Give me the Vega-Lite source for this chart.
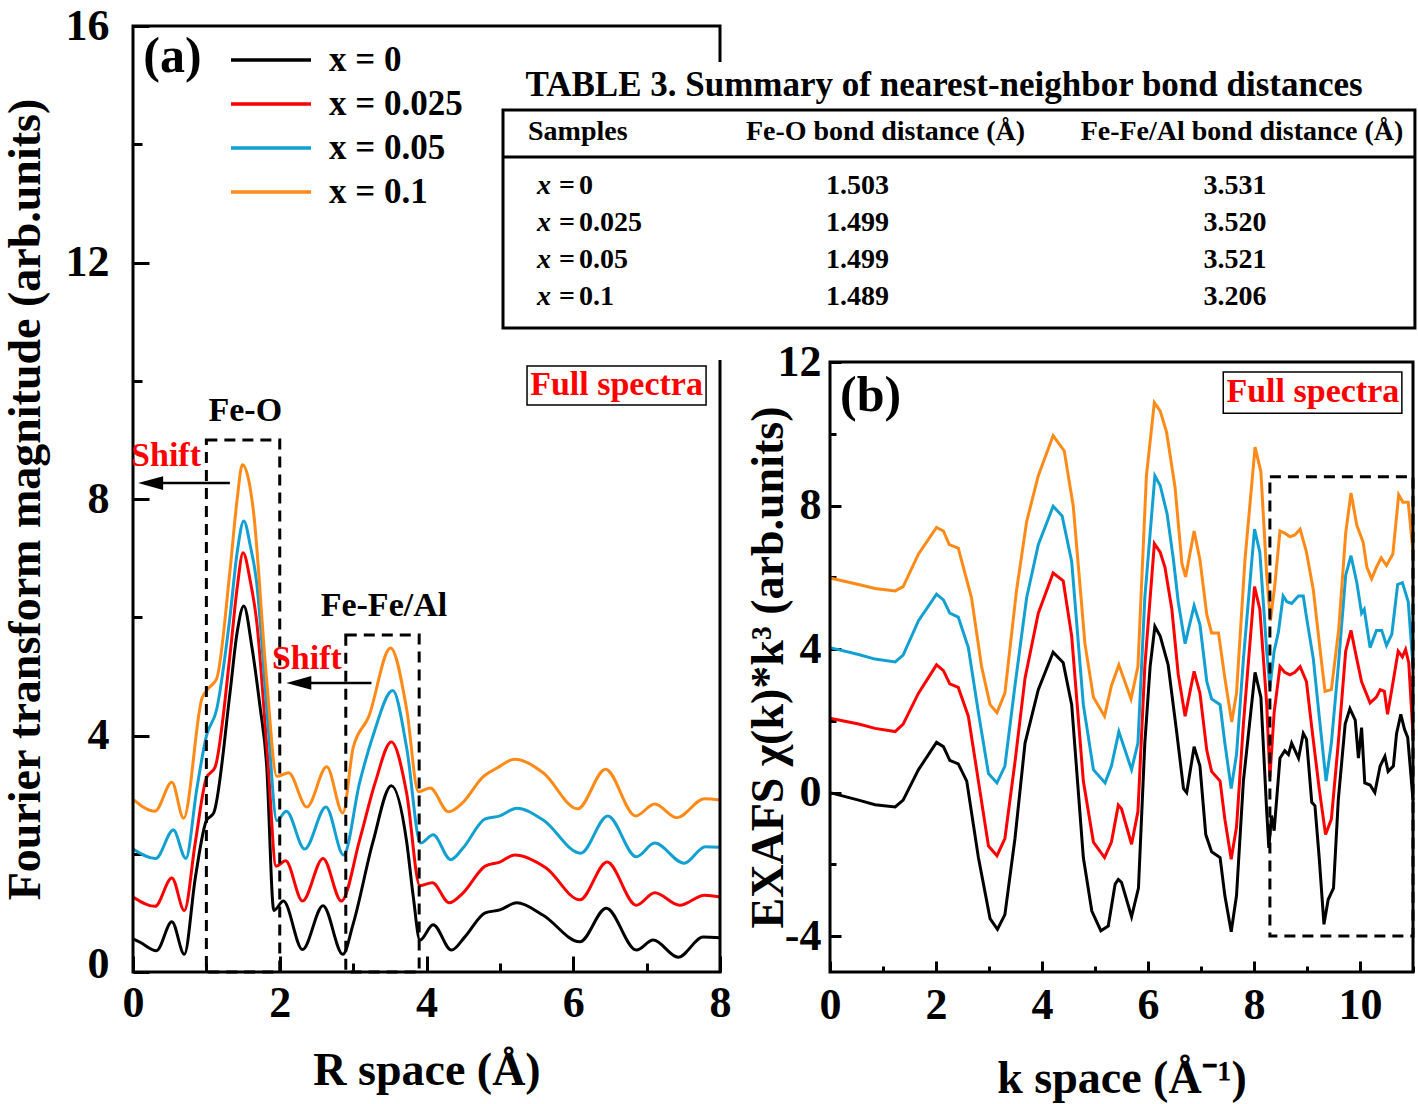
{
"$schema": "https://vega.github.io/schema/vega-lite/v6.json",
"width": 1280, "height": 946,
"autosize": {"type": "none"},
"padding": {"left": 133, "top": 26, "right": 5, "bottom": 132},
"background": "white",
"config": {
  "view": {"stroke": null},
  "font": "Liberation Serif",
  "axis": {"domain": false, "grid": false, "labelFont": "Liberation Serif", "labelFontWeight": "bold", "labelFontSize": 44, "labelColor": "black", "labelFlush": false, "labelOverlap": false, "titleFont": "Liberation Serif", "titleFontWeight": "bold", "titleFontSize": 46, "titleColor": "black", "tickColor": "black", "tickWidth": 3},
  "text": {"font": "Liberation Serif", "fontWeight": "bold"}
},
"datasets": {
  "ft": [
    {"s":"x = 0","r":0,"v":0.56},{"s":"x = 0","r":0.1,"v":0.5},{"s":"x = 0","r":0.32,"v":0.36},{"s":"x = 0","r":0.53,"v":0.85},{"s":"x = 0","r":0.7,"v":0.3},{"s":"x = 0","r":0.85,"v":1.6},{"s":"x = 0","r":1.0,"v":2.56},{"s":"x = 0","r":1.1,"v":2.69},{"s":"x = 0","r":1.32,"v":4.7},{"s":"x = 0","r":1.42,"v":5.75},{"s":"x = 0","r":1.51,"v":6.19},{"s":"x = 0","r":1.62,"v":5.5},{"s":"x = 0","r":1.73,"v":4.5},{"s":"x = 0","r":1.82,"v":3.53},{"s":"x = 0","r":1.92,"v":1.04},{"s":"x = 0","r":2.05,"v":1.2},{"s":"x = 0","r":2.31,"v":0.38},{"s":"x = 0","r":2.59,"v":1.12},{"s":"x = 0","r":2.86,"v":0.3},{"s":"x = 0","r":3.0,"v":0.81},{"s":"x = 0","r":3.27,"v":2.2},{"s":"x = 0","r":3.52,"v":3.15},{"s":"x = 0","r":3.73,"v":2.2},{"s":"x = 0","r":3.82,"v":1.27},{"s":"x = 0","r":3.91,"v":0.54},{"s":"x = 0","r":4.09,"v":0.8},{"s":"x = 0","r":4.34,"v":0.37},{"s":"x = 0","r":4.52,"v":0.59},{"s":"x = 0","r":4.8,"v":1.0},{"s":"x = 0","r":5.0,"v":1.05},{"s":"x = 0","r":5.23,"v":1.17},{"s":"x = 0","r":5.59,"v":0.96},{"s":"x = 0","r":6.09,"v":0.51},{"s":"x = 0","r":6.45,"v":1.08},{"s":"x = 0","r":6.86,"v":0.37},{"s":"x = 0","r":7.09,"v":0.54},{"s":"x = 0","r":7.43,"v":0.25},{"s":"x = 0","r":7.77,"v":0.59},{"s":"x = 0","r":8.0,"v":0.58},
    {"s":"x = 0.025","r":0,"v":1.27},{"s":"x = 0.025","r":0.3,"v":1.11},{"s":"x = 0.025","r":0.53,"v":1.59},{"s":"x = 0.025","r":0.7,"v":1.04},{"s":"x = 0.025","r":0.85,"v":2.2},{"s":"x = 0.025","r":1.0,"v":3.28},{"s":"x = 0.025","r":1.12,"v":3.47},{"s":"x = 0.025","r":1.32,"v":5.34},{"s":"x = 0.025","r":1.42,"v":6.5},{"s":"x = 0.025","r":1.5,"v":7.09},{"s":"x = 0.025","r":1.6,"v":6.6},{"s":"x = 0.025","r":1.68,"v":5.99},{"s":"x = 0.025","r":1.84,"v":3.53},{"s":"x = 0.025","r":1.95,"v":1.79},{"s":"x = 0.025","r":2.08,"v":1.88},{"s":"x = 0.025","r":2.31,"v":1.2},{"s":"x = 0.025","r":2.59,"v":1.92},{"s":"x = 0.025","r":2.84,"v":1.2},{"s":"x = 0.025","r":3.09,"v":2.24},{"s":"x = 0.025","r":3.3,"v":3.2},{"s":"x = 0.025","r":3.52,"v":3.89},{"s":"x = 0.025","r":3.73,"v":3.02},{"s":"x = 0.025","r":3.91,"v":1.46},{"s":"x = 0.025","r":4.08,"v":1.51},{"s":"x = 0.025","r":4.31,"v":1.17},{"s":"x = 0.025","r":4.5,"v":1.34},{"s":"x = 0.025","r":4.8,"v":1.79},{"s":"x = 0.025","r":5.0,"v":1.86},{"s":"x = 0.025","r":5.2,"v":1.98},{"s":"x = 0.025","r":5.63,"v":1.76},{"s":"x = 0.025","r":6.09,"v":1.22},{"s":"x = 0.025","r":6.46,"v":1.86},{"s":"x = 0.025","r":6.86,"v":1.13},{"s":"x = 0.025","r":7.11,"v":1.34},{"s":"x = 0.025","r":7.45,"v":1.13},{"s":"x = 0.025","r":7.79,"v":1.3},{"s":"x = 0.025","r":8.0,"v":1.27},
    {"s":"x = 0.05","r":0,"v":2.08},{"s":"x = 0.05","r":0.31,"v":1.92},{"s":"x = 0.05","r":0.55,"v":2.4},{"s":"x = 0.05","r":0.72,"v":1.92},{"s":"x = 0.05","r":0.87,"v":3.1},{"s":"x = 0.05","r":1.0,"v":3.99},{"s":"x = 0.05","r":1.14,"v":4.44},{"s":"x = 0.05","r":1.32,"v":5.99},{"s":"x = 0.05","r":1.42,"v":7.1},{"s":"x = 0.05","r":1.51,"v":7.63},{"s":"x = 0.05","r":1.6,"v":7.2},{"s":"x = 0.05","r":1.68,"v":6.64},{"s":"x = 0.05","r":1.84,"v":4.18},{"s":"x = 0.05","r":1.96,"v":2.56},{"s":"x = 0.05","r":2.09,"v":2.72},{"s":"x = 0.05","r":2.34,"v":2.08},{"s":"x = 0.05","r":2.63,"v":2.79},{"s":"x = 0.05","r":2.87,"v":1.98},{"s":"x = 0.05","r":3.09,"v":3.21},{"s":"x = 0.05","r":3.27,"v":3.99},{"s":"x = 0.05","r":3.54,"v":4.76},{"s":"x = 0.05","r":3.73,"v":3.79},{"s":"x = 0.05","r":3.92,"v":2.18},{"s":"x = 0.05","r":4.09,"v":2.32},{"s":"x = 0.05","r":4.33,"v":1.9},{"s":"x = 0.05","r":4.5,"v":2.1},{"s":"x = 0.05","r":4.8,"v":2.59},{"s":"x = 0.05","r":5.0,"v":2.64},{"s":"x = 0.05","r":5.23,"v":2.77},{"s":"x = 0.05","r":5.59,"v":2.57},{"s":"x = 0.05","r":6.1,"v":2.01},{"s":"x = 0.05","r":6.47,"v":2.64},{"s":"x = 0.05","r":6.86,"v":1.95},{"s":"x = 0.05","r":7.11,"v":2.18},{"s":"x = 0.05","r":7.51,"v":1.84},{"s":"x = 0.05","r":7.8,"v":2.12},{"s":"x = 0.05","r":8.0,"v":2.11},
    {"s":"x = 0.1","r":0,"v":2.92},{"s":"x = 0.1","r":0.3,"v":2.72},{"s":"x = 0.1","r":0.53,"v":3.21},{"s":"x = 0.1","r":0.69,"v":2.6},{"s":"x = 0.1","r":0.94,"v":4.63},{"s":"x = 0.1","r":1.03,"v":4.8},{"s":"x = 0.1","r":1.14,"v":4.96},{"s":"x = 0.1","r":1.32,"v":6.77},{"s":"x = 0.1","r":1.42,"v":8.0},{"s":"x = 0.1","r":1.49,"v":8.58},{"s":"x = 0.1","r":1.58,"v":8.3},{"s":"x = 0.1","r":1.64,"v":7.81},{"s":"x = 0.1","r":1.82,"v":4.96},{"s":"x = 0.1","r":1.96,"v":3.31},{"s":"x = 0.1","r":2.12,"v":3.37},{"s":"x = 0.1","r":2.37,"v":2.79},{"s":"x = 0.1","r":2.64,"v":3.47},{"s":"x = 0.1","r":2.86,"v":2.69},{"s":"x = 0.1","r":3.0,"v":3.79},{"s":"x = 0.1","r":3.21,"v":4.31},{"s":"x = 0.1","r":3.51,"v":5.48},{"s":"x = 0.1","r":3.73,"v":4.44},{"s":"x = 0.1","r":3.89,"v":3.05},{"s":"x = 0.1","r":4.05,"v":3.11},{"s":"x = 0.1","r":4.3,"v":2.71},{"s":"x = 0.1","r":4.49,"v":2.86},{"s":"x = 0.1","r":4.77,"v":3.3},{"s":"x = 0.1","r":4.96,"v":3.45},{"s":"x = 0.1","r":5.2,"v":3.6},{"s":"x = 0.1","r":5.59,"v":3.37},{"s":"x = 0.1","r":6.06,"v":2.76},{"s":"x = 0.1","r":6.44,"v":3.43},{"s":"x = 0.1","r":6.85,"v":2.64},{"s":"x = 0.1","r":7.11,"v":2.84},{"s":"x = 0.1","r":7.41,"v":2.61},{"s":"x = 0.1","r":7.79,"v":2.93},{"s":"x = 0.1","r":8.0,"v":2.91}
  ],
  "ex": [
    {"s":"x = 0","k":0,"v":0.0},{"s":"x = 0","k":0.54,"v":-0.21},{"s":"x = 0","k":0.85,"v":-0.34},{"s":"x = 0","k":1.23,"v":-0.4},{"s":"x = 0","k":1.38,"v":-0.21},{"s":"x = 0","k":1.67,"v":0.64},{"s":"x = 0","k":2.01,"v":1.4},{"s":"x = 0","k":2.14,"v":1.28},{"s":"x = 0","k":2.26,"v":0.9},{"s":"x = 0","k":2.42,"v":0.8},{"s":"x = 0","k":2.58,"v":0.32},{"s":"x = 0","k":2.8,"v":-1.81},{"s":"x = 0","k":3.02,"v":-3.51},{"s":"x = 0","k":3.16,"v":-3.81},{"s":"x = 0","k":3.3,"v":-3.4},{"s":"x = 0","k":3.49,"v":-1.28},{"s":"x = 0","k":3.68,"v":1.38},{"s":"x = 0","k":3.93,"v":2.87},{"s":"x = 0","k":4.21,"v":3.91},{"s":"x = 0","k":4.4,"v":3.62},{"s":"x = 0","k":4.56,"v":2.45},{"s":"x = 0","k":4.78,"v":-1.81},{"s":"x = 0","k":4.94,"v":-3.3},{"s":"x = 0","k":5.11,"v":-3.85},{"s":"x = 0","k":5.25,"v":-3.72},{"s":"x = 0","k":5.38,"v":-2.55},{"s":"x = 0","k":5.44,"v":-2.42},{"s":"x = 0","k":5.5,"v":-2.5},{"s":"x = 0","k":5.69,"v":-3.46},{"s":"x = 0","k":5.82,"v":-2.66},{"s":"x = 0","k":5.94,"v":1.38},{"s":"x = 0","k":6.04,"v":3.51},{"s":"x = 0","k":6.13,"v":4.63},{"s":"x = 0","k":6.23,"v":4.36},{"s":"x = 0","k":6.38,"v":3.56},{"s":"x = 0","k":6.54,"v":1.7},{"s":"x = 0","k":6.67,"v":0.11},{"s":"x = 0","k":6.73,"v":0.0},{"s":"x = 0","k":6.87,"v":1.28},{"s":"x = 0","k":6.98,"v":0.74},{"s":"x = 0","k":7.09,"v":-1.17},{"s":"x = 0","k":7.2,"v":-1.65},{"s":"x = 0","k":7.36,"v":-1.81},{"s":"x = 0","k":7.45,"v":-2.87},{"s":"x = 0","k":7.57,"v":-3.88},{"s":"x = 0","k":7.67,"v":-2.87},{"s":"x = 0","k":7.8,"v":0.32},{"s":"x = 0","k":8.02,"v":3.35},{"s":"x = 0","k":8.13,"v":2.66},{"s":"x = 0","k":8.24,"v":-0.53},{"s":"x = 0","k":8.28,"v":-1.54},{"s":"x = 0","k":8.33,"v":-0.64},{"s":"x = 0","k":8.38,"v":-1.06},{"s":"x = 0","k":8.49,"v":0.96},{"s":"x = 0","k":8.58,"v":1.17},{"s":"x = 0","k":8.65,"v":1.06},{"s":"x = 0","k":8.71,"v":1.38},{"s":"x = 0","k":8.84,"v":0.96},{"s":"x = 0","k":8.93,"v":1.65},{"s":"x = 0","k":8.99,"v":1.49},{"s":"x = 0","k":9.09,"v":-0.27},{"s":"x = 0","k":9.15,"v":-0.37},{"s":"x = 0","k":9.23,"v":-1.81},{"s":"x = 0","k":9.32,"v":-3.67},{"s":"x = 0","k":9.4,"v":-2.98},{"s":"x = 0","k":9.5,"v":-2.66},{"s":"x = 0","k":9.59,"v":-0.21},{"s":"x = 0","k":9.72,"v":1.91},{"s":"x = 0","k":9.81,"v":2.34},{"s":"x = 0","k":9.91,"v":2.02},{"s":"x = 0","k":9.97,"v":0.96},{"s":"x = 0","k":10.03,"v":1.81},{"s":"x = 0","k":10.09,"v":0.27},{"s":"x = 0","k":10.19,"v":0.21},{"s":"x = 0","k":10.28,"v":0.0},{"s":"x = 0","k":10.38,"v":0.74},{"s":"x = 0","k":10.47,"v":1.01},{"s":"x = 0","k":10.53,"v":0.59},{"s":"x = 0","k":10.63,"v":0.74},{"s":"x = 0","k":10.69,"v":1.65},{"s":"x = 0","k":10.77,"v":2.18},{"s":"x = 0","k":10.84,"v":1.76},{"s":"x = 0","k":10.9,"v":1.54},{"s":"x = 0","k":10.94,"v":0.85},{"s":"x = 0","k":11.0,"v":-0.21},
    {"s":"x = 0.025","k":0,"v":2.07},{"s":"x = 0.025","k":0.54,"v":1.91},{"s":"x = 0.025","k":0.85,"v":1.79},{"s":"x = 0.025","k":1.23,"v":1.7},{"s":"x = 0.025","k":1.38,"v":1.91},{"s":"x = 0.025","k":1.67,"v":2.77},{"s":"x = 0.025","k":2.01,"v":3.56},{"s":"x = 0.025","k":2.14,"v":3.4},{"s":"x = 0.025","k":2.26,"v":3.03},{"s":"x = 0.025","k":2.42,"v":2.93},{"s":"x = 0.025","k":2.61,"v":2.13},{"s":"x = 0.025","k":2.8,"v":0.32},{"s":"x = 0.025","k":2.99,"v":-1.49},{"s":"x = 0.025","k":3.15,"v":-1.76},{"s":"x = 0.025","k":3.3,"v":-1.28},{"s":"x = 0.025","k":3.49,"v":0.85},{"s":"x = 0.025","k":3.68,"v":3.19},{"s":"x = 0.025","k":3.93,"v":5.0},{"s":"x = 0.025","k":4.21,"v":6.12},{"s":"x = 0.025","k":4.4,"v":5.9},{"s":"x = 0.025","k":4.56,"v":4.36},{"s":"x = 0.025","k":4.78,"v":0.32},{"s":"x = 0.025","k":4.97,"v":-1.38},{"s":"x = 0.025","k":5.18,"v":-1.81},{"s":"x = 0.025","k":5.31,"v":-1.38},{"s":"x = 0.025","k":5.44,"v":-0.35},{"s":"x = 0.025","k":5.5,"v":-0.45},{"s":"x = 0.025","k":5.69,"v":-1.44},{"s":"x = 0.025","k":5.81,"v":-0.53},{"s":"x = 0.025","k":5.94,"v":3.51},{"s":"x = 0.025","k":6.12,"v":6.94},{"s":"x = 0.025","k":6.23,"v":6.7},{"s":"x = 0.025","k":6.32,"v":6.28},{"s":"x = 0.025","k":6.45,"v":5.11},{"s":"x = 0.025","k":6.57,"v":3.3},{"s":"x = 0.025","k":6.7,"v":2.13},{"s":"x = 0.025","k":6.87,"v":3.38},{"s":"x = 0.025","k":6.98,"v":2.77},{"s":"x = 0.025","k":7.11,"v":1.17},{"s":"x = 0.025","k":7.2,"v":0.59},{"s":"x = 0.025","k":7.36,"v":0.32},{"s":"x = 0.025","k":7.45,"v":-0.74},{"s":"x = 0.025","k":7.57,"v":-1.86},{"s":"x = 0.025","k":7.67,"v":-0.96},{"s":"x = 0.025","k":7.8,"v":1.91},{"s":"x = 0.025","k":8.01,"v":5.74},{"s":"x = 0.025","k":8.11,"v":5.11},{"s":"x = 0.025","k":8.24,"v":2.45},{"s":"x = 0.025","k":8.3,"v":0.43},{"s":"x = 0.025","k":8.38,"v":2.23},{"s":"x = 0.025","k":8.49,"v":3.51},{"s":"x = 0.025","k":8.58,"v":3.35},{"s":"x = 0.025","k":8.68,"v":3.28},{"s":"x = 0.025","k":8.77,"v":3.35},{"s":"x = 0.025","k":8.87,"v":3.51},{"s":"x = 0.025","k":8.99,"v":3.09},{"s":"x = 0.025","k":9.09,"v":1.81},{"s":"x = 0.025","k":9.23,"v":0.11},{"s":"x = 0.025","k":9.35,"v":-1.17},{"s":"x = 0.025","k":9.46,"v":-0.74},{"s":"x = 0.025","k":9.59,"v":1.38},{"s":"x = 0.025","k":9.73,"v":3.94},{"s":"x = 0.025","k":9.83,"v":4.52},{"s":"x = 0.025","k":9.94,"v":3.72},{"s":"x = 0.025","k":10.03,"v":3.09},{"s":"x = 0.025","k":10.19,"v":2.5},{"s":"x = 0.025","k":10.31,"v":2.66},{"s":"x = 0.025","k":10.38,"v":2.87},{"s":"x = 0.025","k":10.46,"v":2.82},{"s":"x = 0.025","k":10.52,"v":2.18},{"s":"x = 0.025","k":10.6,"v":2.87},{"s":"x = 0.025","k":10.72,"v":3.94},{"s":"x = 0.025","k":10.8,"v":3.78},{"s":"x = 0.025","k":10.86,"v":3.99},{"s":"x = 0.025","k":10.92,"v":3.62},{"s":"x = 0.025","k":11.0,"v":1.6},
    {"s":"x = 0.05","k":0,"v":4.04},{"s":"x = 0.05","k":0.54,"v":3.85},{"s":"x = 0.05","k":0.85,"v":3.72},{"s":"x = 0.05","k":1.23,"v":3.64},{"s":"x = 0.05","k":1.38,"v":3.83},{"s":"x = 0.05","k":1.67,"v":4.79},{"s":"x = 0.05","k":2.01,"v":5.53},{"s":"x = 0.05","k":2.14,"v":5.37},{"s":"x = 0.05","k":2.26,"v":5.0},{"s":"x = 0.05","k":2.42,"v":4.89},{"s":"x = 0.05","k":2.61,"v":4.04},{"s":"x = 0.05","k":2.8,"v":2.23},{"s":"x = 0.05","k":2.99,"v":0.53},{"s":"x = 0.05","k":3.15,"v":0.27},{"s":"x = 0.05","k":3.3,"v":0.74},{"s":"x = 0.05","k":3.49,"v":2.98},{"s":"x = 0.05","k":3.71,"v":5.43},{"s":"x = 0.05","k":3.93,"v":6.91},{"s":"x = 0.05","k":4.21,"v":7.98},{"s":"x = 0.05","k":4.38,"v":7.71},{"s":"x = 0.05","k":4.56,"v":6.44},{"s":"x = 0.05","k":4.78,"v":2.45},{"s":"x = 0.05","k":4.97,"v":0.64},{"s":"x = 0.05","k":5.19,"v":0.27},{"s":"x = 0.05","k":5.31,"v":0.74},{"s":"x = 0.05","k":5.45,"v":1.7},{"s":"x = 0.05","k":5.69,"v":0.64},{"s":"x = 0.05","k":5.81,"v":1.38},{"s":"x = 0.05","k":5.94,"v":5.43},{"s":"x = 0.05","k":6.13,"v":8.83},{"s":"x = 0.05","k":6.23,"v":8.56},{"s":"x = 0.05","k":6.36,"v":7.77},{"s":"x = 0.05","k":6.48,"v":6.49},{"s":"x = 0.05","k":6.57,"v":5.32},{"s":"x = 0.05","k":6.7,"v":4.15},{"s":"x = 0.05","k":6.87,"v":5.21},{"s":"x = 0.05","k":6.98,"v":4.68},{"s":"x = 0.05","k":7.11,"v":3.09},{"s":"x = 0.05","k":7.2,"v":2.61},{"s":"x = 0.05","k":7.36,"v":2.45},{"s":"x = 0.05","k":7.45,"v":1.38},{"s":"x = 0.05","k":7.57,"v":0.11},{"s":"x = 0.05","k":7.67,"v":1.06},{"s":"x = 0.05","k":7.8,"v":3.72},{"s":"x = 0.05","k":8.01,"v":7.34},{"s":"x = 0.05","k":8.11,"v":6.7},{"s":"x = 0.05","k":8.24,"v":3.94},{"s":"x = 0.05","k":8.3,"v":2.93},{"s":"x = 0.05","k":8.38,"v":3.94},{"s":"x = 0.05","k":8.46,"v":4.47},{"s":"x = 0.05","k":8.55,"v":5.48},{"s":"x = 0.05","k":8.62,"v":5.32},{"s":"x = 0.05","k":8.71,"v":5.27},{"s":"x = 0.05","k":8.84,"v":5.48},{"s":"x = 0.05","k":8.93,"v":5.48},{"s":"x = 0.05","k":8.99,"v":4.89},{"s":"x = 0.05","k":9.12,"v":3.72},{"s":"x = 0.05","k":9.23,"v":2.13},{"s":"x = 0.05","k":9.36,"v":0.32},{"s":"x = 0.05","k":9.46,"v":1.38},{"s":"x = 0.05","k":9.59,"v":3.51},{"s":"x = 0.05","k":9.73,"v":6.06},{"s":"x = 0.05","k":9.83,"v":6.6},{"s":"x = 0.05","k":9.94,"v":5.85},{"s":"x = 0.05","k":10.03,"v":5.0},{"s":"x = 0.05","k":10.08,"v":5.11},{"s":"x = 0.05","k":10.19,"v":4.04},{"s":"x = 0.05","k":10.31,"v":4.52},{"s":"x = 0.05","k":10.41,"v":4.52},{"s":"x = 0.05","k":10.5,"v":4.1},{"s":"x = 0.05","k":10.6,"v":4.41},{"s":"x = 0.05","k":10.71,"v":5.8},{"s":"x = 0.05","k":10.8,"v":5.85},{"s":"x = 0.05","k":10.91,"v":5.32},{"s":"x = 0.05","k":11.0,"v":3.51},
    {"s":"x = 0.1","k":0,"v":5.98},{"s":"x = 0.1","k":0.54,"v":5.8},{"s":"x = 0.1","k":0.85,"v":5.69},{"s":"x = 0.1","k":1.23,"v":5.62},{"s":"x = 0.1","k":1.38,"v":5.74},{"s":"x = 0.1","k":1.67,"v":6.65},{"s":"x = 0.1","k":2.01,"v":7.39},{"s":"x = 0.1","k":2.14,"v":7.29},{"s":"x = 0.1","k":2.25,"v":6.91},{"s":"x = 0.1","k":2.42,"v":6.81},{"s":"x = 0.1","k":2.67,"v":5.43},{"s":"x = 0.1","k":2.86,"v":3.51},{"s":"x = 0.1","k":3.02,"v":2.45},{"s":"x = 0.1","k":3.15,"v":2.23},{"s":"x = 0.1","k":3.3,"v":2.77},{"s":"x = 0.1","k":3.52,"v":5.64},{"s":"x = 0.1","k":3.71,"v":7.55},{"s":"x = 0.1","k":3.93,"v":8.83},{"s":"x = 0.1","k":4.21,"v":9.95},{"s":"x = 0.1","k":4.42,"v":9.52},{"s":"x = 0.1","k":4.59,"v":7.98},{"s":"x = 0.1","k":4.81,"v":4.15},{"s":"x = 0.1","k":4.97,"v":2.66},{"s":"x = 0.1","k":5.18,"v":2.13},{"s":"x = 0.1","k":5.31,"v":2.98},{"s":"x = 0.1","k":5.45,"v":3.56},{"s":"x = 0.1","k":5.68,"v":2.61},{"s":"x = 0.1","k":5.81,"v":3.51},{"s":"x = 0.1","k":5.97,"v":8.83},{"s":"x = 0.1","k":6.12,"v":10.87},{"s":"x = 0.1","k":6.23,"v":10.64},{"s":"x = 0.1","k":6.35,"v":10.05},{"s":"x = 0.1","k":6.51,"v":8.51},{"s":"x = 0.1","k":6.64,"v":6.38},{"s":"x = 0.1","k":6.71,"v":6.01},{"s":"x = 0.1","k":6.87,"v":7.29},{"s":"x = 0.1","k":6.98,"v":6.49},{"s":"x = 0.1","k":7.11,"v":4.95},{"s":"x = 0.1","k":7.2,"v":4.45},{"s":"x = 0.1","k":7.33,"v":4.45},{"s":"x = 0.1","k":7.45,"v":3.19},{"s":"x = 0.1","k":7.58,"v":1.97},{"s":"x = 0.1","k":7.67,"v":2.77},{"s":"x = 0.1","k":7.83,"v":6.49},{"s":"x = 0.1","k":8.02,"v":9.63},{"s":"x = 0.1","k":8.13,"v":8.94},{"s":"x = 0.1","k":8.24,"v":6.06},{"s":"x = 0.1","k":8.31,"v":4.79},{"s":"x = 0.1","k":8.39,"v":5.74},{"s":"x = 0.1","k":8.49,"v":7.29},{"s":"x = 0.1","k":8.58,"v":7.23},{"s":"x = 0.1","k":8.68,"v":7.13},{"s":"x = 0.1","k":8.77,"v":7.18},{"s":"x = 0.1","k":8.87,"v":7.34},{"s":"x = 0.1","k":8.99,"v":6.7},{"s":"x = 0.1","k":9.12,"v":5.64},{"s":"x = 0.1","k":9.25,"v":3.94},{"s":"x = 0.1","k":9.34,"v":2.82},{"s":"x = 0.1","k":9.46,"v":2.87},{"s":"x = 0.1","k":9.6,"v":4.57},{"s":"x = 0.1","k":9.73,"v":7.23},{"s":"x = 0.1","k":9.83,"v":8.35},{"s":"x = 0.1","k":9.94,"v":7.45},{"s":"x = 0.1","k":10.06,"v":6.97},{"s":"x = 0.1","k":10.13,"v":6.28},{"s":"x = 0.1","k":10.22,"v":5.96},{"s":"x = 0.1","k":10.31,"v":6.28},{"s":"x = 0.1","k":10.4,"v":6.54},{"s":"x = 0.1","k":10.5,"v":6.33},{"s":"x = 0.1","k":10.62,"v":6.65},{"s":"x = 0.1","k":10.73,"v":8.3},{"s":"x = 0.1","k":10.81,"v":8.09},{"s":"x = 0.1","k":10.91,"v":8.09},{"s":"x = 0.1","k":11.0,"v":6.7}
  ],
  "tab": [
    {"row":1,"sample":"0","feo":"1.503","fefe":"3.531"},
    {"row":2,"sample":"0.025","feo":"1.499","fefe":"3.520"},
    {"row":3,"sample":"0.05","feo":"1.499","fefe":"3.521"},
    {"row":4,"sample":"0.1","feo":"1.489","fefe":"3.206"}
  ]
},
"layer": [
  {
    "layer": [
      {
        "data": {"name": "ft"},
        "mark": {"type": "line", "strokeWidth": 3, "interpolate": "monotone"},
        "encoding": {
          "x": {"field": "r", "type": "quantitative", "scale": {"domain": [0, 8], "range": [0, 587], "nice": false, "zero": false},
                "axis": {"orient": "bottom", "values": [0,1,2,3,4,5,6,7,8], "labelExpr": "datum.value % 2 === 0 ? '' + datum.value : ''", "tickSize": {"condition": {"test": "datum.value % 2 === 0", "value": -16}, "value": -9}, "labelPadding": 25, "title": "R space (Å)", "titleY": 98, "titleBaseline": "middle"}},
          "y": {"field": "v", "type": "quantitative", "scale": {"domain": [0, 16], "range": [946, 0], "nice": false, "zero": false},
                "axis": {"orient": "left", "values": [0,2,4,6,8,10,12,14,16], "labelExpr": "datum.value % 4 === 0 ? '' + datum.value : ''", "tickSize": {"condition": {"test": "datum.value % 4 === 0", "value": -16}, "value": -9}, "labelOffset": {"condition": {"test": "datum.value === 0", "value": -8}, "value": 0}, "labelPadding": 40, "title": "Fourier transform magnitude (arb.units)", "titleX": -108, "titleBaseline": "middle"}},
          "color": {"field": "s", "type": "nominal",
                    "scale": {"domain": ["x = 0", "x = 0.025", "x = 0.05", "x = 0.1"], "range": ["#000000", "#ff0000", "#12a0d2", "#ff8a18"]},
                    "legend": {"orient": "none", "legendX": 116, "legendY": 12, "title": null, "symbolType": "M-2,0H2", "symbolSize": 1600, "symbolStrokeWidth": 3.5, "labelFont": "Liberation Serif", "labelFontSize": 35, "labelFontWeight": "bold", "labelColor": "black", "labelOffset": 36, "rowPadding": 4, "padding": 0, "labelLimit": 400}}
        }
      },
      {
        "data": {"values": [{}]},
        "mark": {"type": "rect", "fill": "transparent", "stroke": "black", "strokeWidth": 3},
        "encoding": {
          "x": {"datum": 0, "type": "quantitative", "scale": {"domain": [0, 8], "range": [0, 587], "nice": false, "zero": false}},
          "x2": {"datum": 8},
          "y": {"datum": 0, "type": "quantitative", "scale": {"domain": [0, 16], "range": [946, 0], "nice": false, "zero": false}},
          "y2": {"datum": 16}
        }
      },
      {
        "data": {"values": [{"r1": 1.0, "r2": 2.0, "v1": 0, "v2": 9.0}, {"r1": 2.9, "r2": 3.9, "v1": 0, "v2": 5.7}]},
        "mark": {"type": "rect", "fill": "transparent", "stroke": "black", "strokeWidth": 3, "strokeDash": [11, 7]},
        "encoding": {
          "x": {"field": "r1", "type": "quantitative", "scale": {"domain": [0, 8], "range": [0, 587], "nice": false, "zero": false}},
          "x2": {"field": "r2"},
          "y": {"field": "v1", "type": "quantitative", "scale": {"domain": [0, 16], "range": [946, 0], "nice": false, "zero": false}},
          "y2": {"field": "v2"}
        }
      },
      {
        "data": {"values": [{"r1": 1.32, "r2": 0.24, "v": 8.27}, {"r1": 3.25, "r2": 2.26, "v": 4.89}]},
        "layer": [
          {"mark": {"type": "rule", "stroke": "black", "strokeWidth": 2.5},
           "encoding": {
             "x": {"field": "r1", "type": "quantitative", "scale": {"domain": [0, 8], "range": [0, 587], "nice": false, "zero": false}},
             "x2": {"field": "r2"},
             "y": {"field": "v", "type": "quantitative", "scale": {"domain": [0, 16], "range": [946, 0], "nice": false, "zero": false}}
           }},
          {"mark": {"type": "point", "shape": "M-1,0L1,-0.55L1,0.55Z", "filled": true, "fill": "black", "stroke": null, "size": 625, "opacity": 1},
           "encoding": {
             "x": {"field": "r2", "type": "quantitative", "scale": {"domain": [0, 8], "range": [0, 587], "nice": false, "zero": false}},
             "y": {"field": "v", "type": "quantitative", "scale": {"domain": [0, 16], "range": [946, 0], "nice": false, "zero": false}}
           }}
        ]
      },
      {
        "data": {"values": [{"t": "Fe-O", "r": 1.53, "v": 9.49}, {"t": "Fe-Fe/Al", "r": 3.42, "v": 6.19}]},
        "mark": {"type": "text", "fontSize": 34, "fontWeight": "bold", "color": "black", "align": "center", "baseline": "middle"},
        "encoding": {
          "x": {"field": "r", "type": "quantitative", "scale": {"domain": [0, 8], "range": [0, 587], "nice": false, "zero": false}},
          "y": {"field": "v", "type": "quantitative", "scale": {"domain": [0, 16], "range": [946, 0], "nice": false, "zero": false}},
          "text": {"field": "t"}
        }
      },
      {
        "data": {"values": [{"t": "Shift", "r": 0.45, "v": 8.73}, {"t": "Shift", "r": 2.37, "v": 5.29}]},
        "mark": {"type": "text", "fontSize": 34, "fontWeight": "bold", "color": "#ff0000", "align": "center", "baseline": "middle"},
        "encoding": {
          "x": {"field": "r", "type": "quantitative", "scale": {"domain": [0, 8], "range": [0, 587], "nice": false, "zero": false}},
          "y": {"field": "v", "type": "quantitative", "scale": {"domain": [0, 16], "range": [946, 0], "nice": false, "zero": false}},
          "text": {"field": "t"}
        }
      },
      {
        "data": {"values": [{"t": "(a)", "r": 0.14, "v": 15.48}]},
        "mark": {"type": "text", "fontSize": 50, "fontWeight": "bold", "color": "black", "align": "left", "baseline": "middle"},
        "encoding": {
          "x": {"field": "r", "type": "quantitative", "scale": {"domain": [0, 8], "range": [0, 587], "nice": false, "zero": false}},
          "y": {"field": "v", "type": "quantitative", "scale": {"domain": [0, 16], "range": [946, 0], "nice": false, "zero": false}},
          "text": {"field": "t"}
        }
      },
      {
        "data": {"values": [{"t": "Full spectra", "r": 6.59, "v": 9.92, "r1": 5.37, "r2": 7.81, "v1": 9.59, "v2": 10.25}]},
        "layer": [
          {"mark": {"type": "rect", "fill": "white", "stroke": "black", "strokeWidth": 1.5},
           "encoding": {
             "x": {"field": "r1", "type": "quantitative", "scale": {"domain": [0, 8], "range": [0, 587], "nice": false, "zero": false}},
             "x2": {"field": "r2"},
             "y": {"field": "v1", "type": "quantitative", "scale": {"domain": [0, 16], "range": [946, 0], "nice": false, "zero": false}},
             "y2": {"field": "v2"}
           }},
          {"mark": {"type": "text", "fontSize": 34, "fontWeight": "bold", "color": "#ff0000", "align": "center", "baseline": "middle"},
           "encoding": {
             "x": {"field": "r", "type": "quantitative", "scale": {"domain": [0, 8], "range": [0, 587], "nice": false, "zero": false}},
             "y": {"field": "v", "type": "quantitative", "scale": {"domain": [0, 16], "range": [946, 0], "nice": false, "zero": false}},
             "text": {"field": "t"}
           }}
        ]
      }
    ]
  },
  {
    "layer": [
      {
        "data": {"name": "ex"},
        "mark": {"type": "line", "strokeWidth": 3, "interpolate": "linear"},
        "encoding": {
          "x": {"field": "k", "type": "quantitative", "scale": {"domain": [0, 11], "range": [697, 1280], "nice": false, "zero": false},
                "axis": {"orient": "bottom", "values": [0,1,2,3,4,5,6,7,8,9,10,11], "labelExpr": "datum.value % 2 === 0 ? '' + datum.value : ''", "tickSize": {"condition": {"test": "datum.value % 2 === 0", "value": -11}, "value": -6}, "labelPadding": 22, "title": "k space (Å⁻¹)", "titleY": 106, "titleBaseline": "middle"}},
          "y": {"field": "v", "type": "quantitative", "scale": {"domain": [-5, 12], "range": [946, 336], "nice": false, "zero": false},
                "axis": {"orient": "left", "offset": -697, "values": [-4,-2,0,2,4,6,8,10,12], "labelExpr": "datum.value % 4 === 0 ? '' + datum.value : ''", "tickSize": {"condition": {"test": "datum.value % 4 === 0", "value": -11}, "value": -6}, "labelPadding": 20, "title": "EXAFS χ(k)*k³ (arb.units)", "titleX": -62, "titleBaseline": "middle"}},
          "color": {"field": "s", "type": "nominal", "scale": {"domain": ["x = 0", "x = 0.025", "x = 0.05", "x = 0.1"], "range": ["#000000", "#ff0000", "#12a0d2", "#ff8a18"]}, "legend": null}
        }
      },
      {
        "data": {"values": [{}]},
        "mark": {"type": "rect", "fill": "transparent", "stroke": "black", "strokeWidth": 3},
        "encoding": {
          "x": {"datum": 0, "type": "quantitative", "scale": {"domain": [0, 11], "range": [697, 1280], "nice": false, "zero": false}},
          "x2": {"datum": 11},
          "y": {"datum": -5, "type": "quantitative", "scale": {"domain": [-5, 12], "range": [946, 336], "nice": false, "zero": false}},
          "y2": {"datum": 12}
        }
      },
      {
        "data": {"values": [{"k1": 8.3, "k2": 11, "v1": -4.0, "v2": 8.8}]},
        "mark": {"type": "rect", "fill": "transparent", "stroke": "black", "strokeWidth": 3, "strokeDash": [11, 7]},
        "encoding": {
          "x": {"field": "k1", "type": "quantitative", "scale": {"domain": [0, 11], "range": [697, 1280], "nice": false, "zero": false}},
          "x2": {"field": "k2"},
          "y": {"field": "v1", "type": "quantitative", "scale": {"domain": [-5, 12], "range": [946, 336], "nice": false, "zero": false}},
          "y2": {"field": "v2"}
        }
      },
      {
        "data": {"values": [{"t": "(b)", "k": 0.19, "v": 11.05}]},
        "mark": {"type": "text", "fontSize": 50, "fontWeight": "bold", "color": "black", "align": "left", "baseline": "middle"},
        "encoding": {
          "x": {"field": "k", "type": "quantitative", "scale": {"domain": [0, 11], "range": [697, 1280], "nice": false, "zero": false}},
          "y": {"field": "v", "type": "quantitative", "scale": {"domain": [-5, 12], "range": [946, 336], "nice": false, "zero": false}},
          "text": {"field": "t"}
        }
      },
      {
        "data": {"values": [{"t": "Full spectra", "k": 9.11, "v": 11.16, "k1": 7.42, "k2": 10.79, "v1": 10.57, "v2": 11.72}]},
        "layer": [
          {"mark": {"type": "rect", "fill": "white", "stroke": "black", "strokeWidth": 1.5},
           "encoding": {
             "x": {"field": "k1", "type": "quantitative", "scale": {"domain": [0, 11], "range": [697, 1280], "nice": false, "zero": false}},
             "x2": {"field": "k2"},
             "y": {"field": "v1", "type": "quantitative", "scale": {"domain": [-5, 12], "range": [946, 336], "nice": false, "zero": false}},
             "y2": {"field": "v2"}
           }},
          {"mark": {"type": "text", "fontSize": 34, "fontWeight": "bold", "color": "#ff0000", "align": "center", "baseline": "middle"},
           "encoding": {
             "x": {"field": "k", "type": "quantitative", "scale": {"domain": [0, 11], "range": [697, 1280], "nice": false, "zero": false}},
             "y": {"field": "v", "type": "quantitative", "scale": {"domain": [-5, 12], "range": [946, 336], "nice": false, "zero": false}},
             "text": {"field": "t"}
           }}
        ]
      }
    ]
  },
  {
    "layer": [
      {
        "data": {"values": [{"a": -0.108, "b": 0.656, "c": -2.35, "d": 5.7}, {"a": 0.656, "b": 2.518, "c": -2.35, "d": 5.1}]},
        "mark": {"type": "rect", "fill": "white", "stroke": null},
        "encoding": {
          "x": {"field": "a", "type": "quantitative", "scale": {"domain": [0, 2], "range": [395, 1102], "nice": false, "zero": false}, "axis": null},
          "x2": {"field": "b"},
          "y": {"field": "c", "type": "quantitative", "scale": {"domain": [1, 4], "range": [160, 271], "nice": false, "zero": false}, "axis": null},
          "y2": {"field": "d"}
        }
      },
      {
        "data": {"values": [{}]},
        "mark": {"type": "rect", "fill": "transparent", "stroke": "black", "strokeWidth": 3},
        "encoding": {
          "x": {"datum": -0.0707, "type": "quantitative", "scale": {"domain": [0, 2], "range": [395, 1102], "nice": false, "zero": false}, "axis": null},
          "x2": {"datum": 2.509},
          "y": {"datum": -1.054, "type": "quantitative", "scale": {"domain": [1, 4], "range": [160, 271], "nice": false, "zero": false}, "axis": null},
          "y2": {"datum": 4.838}
        }
      },
      {
        "data": {"values": [{}]},
        "mark": {"type": "rule", "stroke": "black", "strokeWidth": 3},
        "encoding": {
          "x": {"datum": -0.0707, "type": "quantitative", "scale": {"domain": [0, 2], "range": [395, 1102], "nice": false, "zero": false}, "axis": null},
          "x2": {"datum": 2.509},
          "y": {"datum": 0.216, "type": "quantitative", "scale": {"domain": [1, 4], "range": [160, 271], "nice": false, "zero": false}, "axis": null}
        }
      },
      {
        "data": {"values": [{}]},
        "mark": {"type": "text", "text": "TABLE 3. Summary of nearest-neighbor bond distances", "fontSize": 35, "fontWeight": "bold", "color": "black", "align": "center", "baseline": "middle"},
        "encoding": {
          "x": {"datum": 1.177, "type": "quantitative", "scale": {"domain": [0, 2], "range": [395, 1102], "nice": false, "zero": false}, "axis": null},
          "y": {"datum": -1.73, "type": "quantitative", "scale": {"domain": [1, 4], "range": [160, 271], "nice": false, "zero": false}, "axis": null}
        }
      },
      {
        "data": {"values": [{}]},
        "mark": {"type": "text", "text": "Samples", "fontSize": 28, "fontWeight": "bold", "color": "black", "align": "left", "baseline": "middle"},
        "encoding": {
          "x": {"datum": 0, "type": "quantitative", "scale": {"domain": [0, 2], "range": [395, 1102], "nice": false, "zero": false}, "axis": null},
          "y": {"datum": -0.459, "type": "quantitative", "scale": {"domain": [1, 4], "range": [160, 271], "nice": false, "zero": false}, "axis": null}
        }
      },
      {
        "data": {"values": [{}]},
        "mark": {"type": "text", "text": "Fe-O bond distance (Å)", "fontSize": 28, "fontWeight": "bold", "color": "black", "align": "center", "baseline": "middle", "dx": 4},
        "encoding": {
          "x": {"datum": 1, "type": "quantitative", "scale": {"domain": [0, 2], "range": [395, 1102], "nice": false, "zero": false}, "axis": null},
          "y": {"datum": -0.459, "type": "quantitative", "scale": {"domain": [1, 4], "range": [160, 271], "nice": false, "zero": false}, "axis": null}
        }
      },
      {
        "data": {"values": [{}]},
        "mark": {"type": "text", "text": "Fe-Fe/Al bond distance (Å)", "fontSize": 28, "fontWeight": "bold", "color": "black", "align": "center", "baseline": "middle", "dx": 7},
        "encoding": {
          "x": {"datum": 2, "type": "quantitative", "scale": {"domain": [0, 2], "range": [395, 1102], "nice": false, "zero": false}, "axis": null},
          "y": {"datum": -0.459, "type": "quantitative", "scale": {"domain": [1, 4], "range": [160, 271], "nice": false, "zero": false}, "axis": null}
        }
      },
      {
        "data": {"name": "tab"},
        "mark": {"type": "text", "text": "x", "fontSize": 28, "fontWeight": "bold", "fontStyle": "italic", "color": "black", "align": "left", "baseline": "middle", "dx": 9},
        "encoding": {
          "x": {"datum": 0, "type": "quantitative", "scale": {"domain": [0, 2], "range": [395, 1102], "nice": false, "zero": false}, "axis": null},
          "y": {"field": "row", "type": "quantitative", "scale": {"domain": [1, 4], "range": [160, 271], "nice": false, "zero": false}, "axis": null}
        }
      },
      {
        "data": {"name": "tab"},
        "mark": {"type": "text", "text": "=", "fontSize": 28, "fontWeight": "bold", "color": "black", "align": "left", "baseline": "middle", "dx": 31},
        "encoding": {
          "x": {"datum": 0, "type": "quantitative", "scale": {"domain": [0, 2], "range": [395, 1102], "nice": false, "zero": false}, "axis": null},
          "y": {"field": "row", "type": "quantitative", "scale": {"domain": [1, 4], "range": [160, 271], "nice": false, "zero": false}, "axis": null}
        }
      },
      {
        "data": {"name": "tab"},
        "mark": {"type": "text", "fontSize": 28, "fontWeight": "bold", "color": "black", "align": "left", "baseline": "middle", "dx": 51},
        "encoding": {
          "x": {"datum": 0, "type": "quantitative", "scale": {"domain": [0, 2], "range": [395, 1102], "nice": false, "zero": false}, "axis": null},
          "y": {"field": "row", "type": "quantitative", "scale": {"domain": [1, 4], "range": [160, 271], "nice": false, "zero": false}, "axis": null},
          "text": {"field": "sample"}
        }
      },
      {
        "data": {"name": "tab"},
        "mark": {"type": "text", "fontSize": 28, "fontWeight": "bold", "color": "black", "align": "center", "baseline": "middle", "dx": -24},
        "encoding": {
          "x": {"datum": 1, "type": "quantitative", "scale": {"domain": [0, 2], "range": [395, 1102], "nice": false, "zero": false}, "axis": null},
          "y": {"field": "row", "type": "quantitative", "scale": {"domain": [1, 4], "range": [160, 271], "nice": false, "zero": false}, "axis": null},
          "text": {"field": "feo"}
        }
      },
      {
        "data": {"name": "tab"},
        "mark": {"type": "text", "fontSize": 28, "fontWeight": "bold", "color": "black", "align": "center", "baseline": "middle"},
        "encoding": {
          "x": {"datum": 2, "type": "quantitative", "scale": {"domain": [0, 2], "range": [395, 1102], "nice": false, "zero": false}, "axis": null},
          "y": {"field": "row", "type": "quantitative", "scale": {"domain": [1, 4], "range": [160, 271], "nice": false, "zero": false}, "axis": null},
          "text": {"field": "fefe"}
        }
      }
    ]
  }
],
"resolve": {"scale": {"x": "independent", "y": "independent"}, "axis": {"x": "independent", "y": "independent"}}
}
